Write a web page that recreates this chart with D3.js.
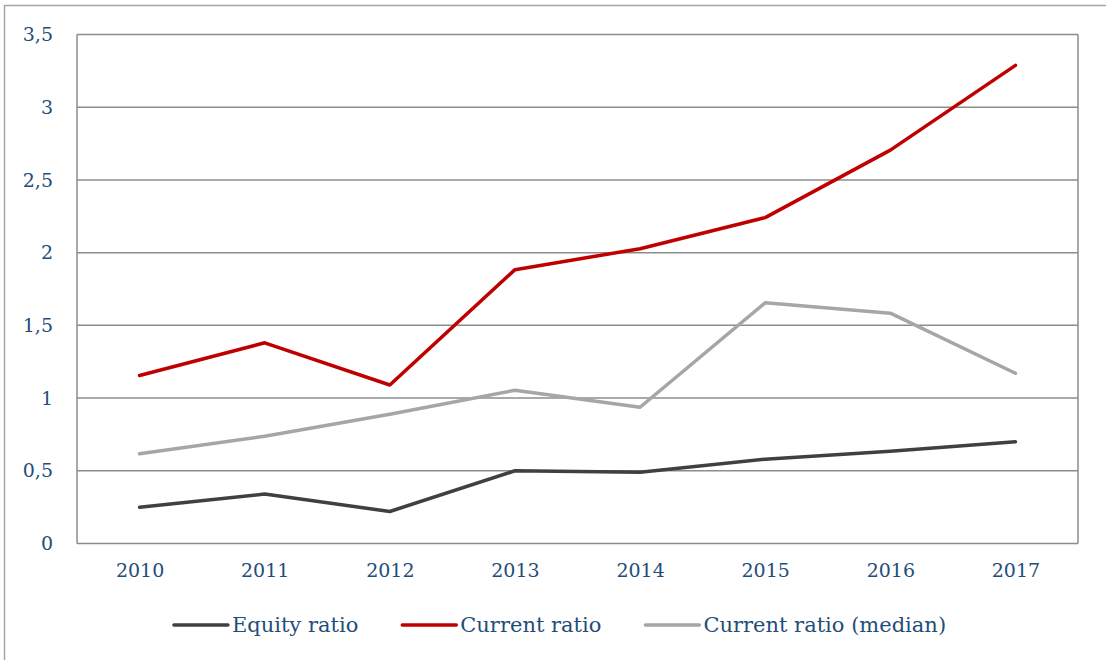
<!DOCTYPE html>
<html>
<head>
<meta charset="utf-8">
<script src="https://cdn.jsdelivr.net/npm/d3@7"></script>
<style>
  body { margin: 0; background: #fff; }
  text { font-family: "DejaVu Serif", "Liberation Serif", serif; fill: #1f4e79; }
</style>
</head>
<body>
<div id="chart"></div>
<script>
// data
var years = ["2010", "2011", "2012", "2013", "2014", "2015", "2016", "2017"];
var equityRatio = [0.25, 0.34, 0.22, 0.50, 0.49, 0.58, 0.635, 0.70];
var currentRatio = [1.155, 1.38, 1.09, 1.883, 2.027, 2.241, 2.705, 3.288];
var currentMedian = [0.617, 0.738, 0.889, 1.054, 0.937, 1.655, 1.584, 1.171];
var yTicks = [0, 0.5, 1, 1.5, 2, 2.5, 3, 3.5];

var series = [
  { name: "Equity ratio", values: equityRatio, color: "#404040" },
  { name: "Current ratio", values: currentRatio, color: "#c00000" },
  { name: "Current ratio (median)", values: currentMedian, color: "#a6a6a6" }
];

var width = 1106, height = 660;
var plotLeft = 77, plotRight = 1078, plotTop = 34.5, plotBottom = 543.5;

var svg = d3.select("#chart").append("svg")
    .attr("width", width)
    .attr("height", height);

// outer frame (title is cut off above)
svg.append("rect")
    .attr("x", 4.5).attr("y", 5.5)
    .attr("width", 1200).attr("height", 800)
    .attr("fill", "none")
    .attr("stroke", "#a6a6a6")
    .attr("stroke-width", 1.5);

var x = d3.scalePoint()
    .domain(years)
    .range([plotLeft, plotRight])
    .padding(0.5);

var y = d3.scaleLinear()
    .domain([0, 3.5])
    .range([plotBottom, plotTop]);

// gridlines
svg.append("g")
    .selectAll("line")
    .data(yTicks)
    .enter()
    .append("line")
    .attr("x1", plotLeft).attr("x2", plotRight)
    .attr("y1", d => y(d)).attr("y2", d => y(d))
    .attr("stroke", "#8c8c8c")
    .attr("stroke-width", 1.5);

// plot border sides
svg.append("line")
    .attr("x1", plotLeft).attr("x2", plotLeft).attr("y1", plotTop).attr("y2", plotBottom)
    .attr("stroke", "#8c8c8c").attr("stroke-width", 1.5);
svg.append("line")
    .attr("x1", plotRight).attr("x2", plotRight).attr("y1", plotTop).attr("y2", plotBottom)
    .attr("stroke", "#8c8c8c").attr("stroke-width", 1.5);

var fmt = d => String(d).replace(".", ",");

var yAxis = svg.append("g")
    .attr("transform", "translate(" + plotLeft + ",0)")
    .call(d3.axisLeft(y).tickValues(yTicks).tickSize(0).tickPadding(24).tickFormat(fmt));
yAxis.select(".domain").remove();
yAxis.selectAll("text")
    .style("font-size", "19px")
    .style("font-family", "DejaVu Serif")
    .attr("fill", "#1f4e79");

var xAxis = svg.append("g")
    .attr("transform", "translate(0," + plotBottom + ")")
    .call(d3.axisBottom(x).tickSize(0).tickPadding(20));
xAxis.select(".domain").remove();
xAxis.selectAll("text")
    .style("font-size", "19px")
    .style("font-family", "DejaVu Serif")
    .attr("fill", "#1f4e79");

var line = d3.line()
    .x((d, i) => x(years[i]))
    .y(d => y(d));

svg.append("g")
    .selectAll("path")
    .data(series)
    .enter()
    .append("path")
    .attr("d", d => line(d.values))
    .attr("fill", "none")
    .attr("stroke", d => d.color)
    .attr("stroke-width", 3.5)
    .attr("stroke-linejoin", "round")
    .attr("stroke-linecap", "round");

// legend
var legend = svg.append("g");
var lx = 0;
series.forEach(function (s, i) {
  var g = legend.append("g").attr("transform", "translate(" + lx + ",0)");
  g.append("line")
    .attr("x1", 0).attr("x2", 54)
    .attr("y1", 0).attr("y2", 0)
    .attr("stroke", s.color)
    .attr("stroke-width", 3.5)
    .attr("stroke-linecap", "round");
  var t = g.append("text")
    .attr("x", 58)
    .attr("y", 7)
    .style("font-size", "21px")
    .text(s.name);
  lx += 58 + t.node().getComputedTextLength() + 44;
});
lx -= 44;
legend.attr("transform", "translate(" + (560 - lx / 2) + ",625)");
</script>
</body>
</html>
